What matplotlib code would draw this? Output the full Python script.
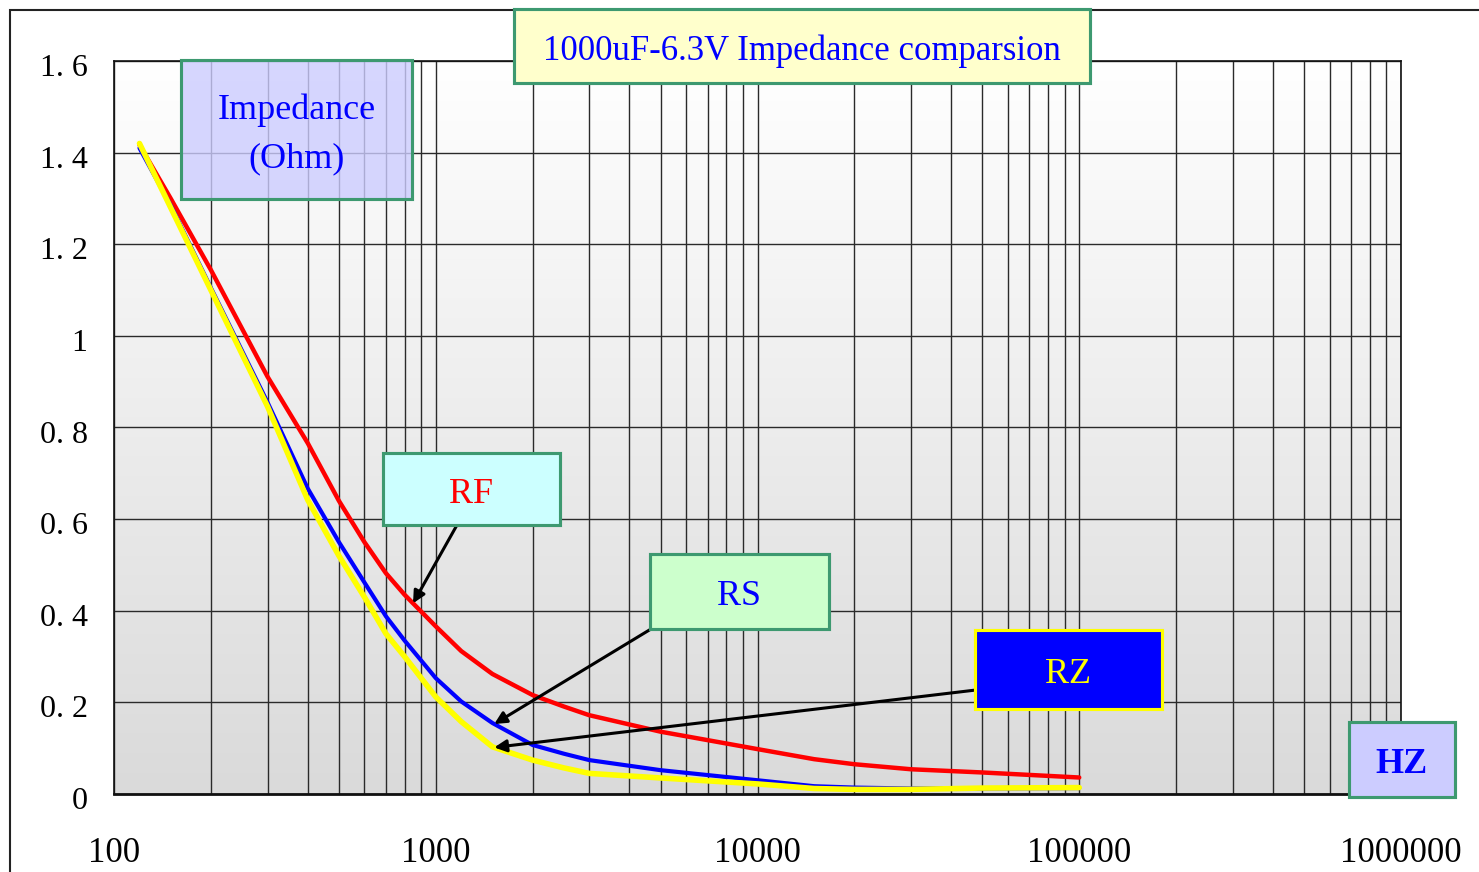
#!/usr/bin/env python3

import numpy as np
import matplotlib
matplotlib.use('Agg')
import matplotlib.pyplot as plt
from matplotlib.patches import Rectangle
from matplotlib.colors import LinearSegmentedColormap
from matplotlib.transforms import ScaledTranslation

# frequency points (Hz) and impedance (Ohm)
freq = [120, 150, 200, 300, 400, 500, 600, 700, 800, 1000, 1200, 1500, 2000,
        2500, 3000, 5000, 10000, 15000, 20000, 30000, 50000, 100000]
rf = [1.417, 1.300, 1.144, 0.911, 0.766, 0.640, 0.550, 0.482, 0.435, 0.366,
      0.312, 0.262, 0.216, 0.191, 0.172, 0.136, 0.098, 0.076, 0.065, 0.054,
      0.047, 0.036]
rs = [1.410, 1.285, 1.105, 0.855, 0.667, 0.550, 0.462, 0.388, 0.335, 0.253,
      0.202, 0.155, 0.107, 0.088, 0.074, 0.052, 0.030, 0.017, 0.014, 0.012,
      0.012, 0.013]
rz = [1.420, 1.280, 1.100, 0.846, 0.642, 0.520, 0.430, 0.350, 0.300, 0.212,
      0.158, 0.103, 0.074, 0.057, 0.045, 0.035, 0.022, 0.012, 0.010, 0.010,
      0.013, 0.014]

yticks = [0, 0.2, 0.4, 0.6, 0.8, 1.0, 1.2, 1.4, 1.6]
ytick_labels = ['0', '0. 2', '0. 4', '0. 6', '0. 8', '1', '1. 2', '1. 4', '1. 6']
xticks = [100, 1000, 10000, 100000, 1000000]
xtick_labels = ['100', '1000', '10000', '100000', '1000000']

title = '1000uF-6.3V Impedance comparsion'

W, H = 1479.0, 872.0
SERIF = 'Liberation Serif'
GREEN = '#3D9970'


def px(x, y):
    # pixel position (from top-left) -> figure fraction
    return (x / W, 1 - y / H)


def box(fig, x0, y0, x1, y1, face, edge, text, color, size=26,
        weight='normal', alpha=1.0):
    fx0, fy1 = px(x0, y0)
    fx1, fy0 = px(x1, y1)
    fig.patches.append(Rectangle((fx0, fy0), fx1 - fx0, fy1 - fy0,
                                 transform=fig.transFigure, facecolor=face,
                                 edgecolor=edge, lw=2.2, alpha=alpha,
                                 zorder=5))
    fig.patches.append(Rectangle((fx0, fy0), fx1 - fx0, fy1 - fy0,
                                 transform=fig.transFigure, facecolor='none',
                                 edgecolor=edge, lw=2.2, zorder=6))
    # text sits a few pixels below the box centre in the original
    fig.text((fx0 + fx1) / 2, (fy0 + fy1) / 2 - 5 / H, text, ha='center',
             va='center', color=color, fontsize=size, family=SERIF,
             weight=weight, linespacing=1.6, zorder=7)


def at(series, f):
    # value of a series at frequency f (log interpolation)
    return float(np.interp(np.log10(f), np.log10(freq), series))


fig = plt.figure(figsize=(W / 100, H / 100), dpi=100)
fig.patch.set_facecolor('white')

# outer chart frame
fig.patches.append(Rectangle(px(10, 880), 1.2, 1 - px(10, 880)[1] - 10 / H,
                             transform=fig.transFigure, facecolor='none',
                             edgecolor='#222222', lw=1.5))

l, t = px(114, 61)
r, b = px(1401, 794)
ax = fig.add_axes([l, b, r - l, t - b])

# white -> light grey background
cmap = LinearSegmentedColormap.from_list('bg', ['#DADADA', '#FFFFFF'])
grad = np.linspace(0, 1, 256).reshape(-1, 1)
ax.imshow(grad, cmap=cmap, extent=[0, 1, 0, 1], transform=ax.transAxes,
          aspect='auto', origin='lower', zorder=-2)

ax.set_xscale('log')
ax.plot(freq, rf, color='#FF0000', lw=3.2, zorder=3, solid_capstyle='round')
ax.plot(freq, rs, color='#0000FF', lw=3.0, zorder=3, solid_capstyle='round')
ax.plot(freq, rz, color='#FFFF00', lw=4.0, zorder=3, solid_capstyle='round')

ax.set_xlim(100, 1000000)
ax.set_ylim(0, 1.6)
ax.set_yticks(yticks)
ax.set_yticklabels(ytick_labels, family=SERIF, fontsize=23)
ax.set_xticks(xticks)
ax.set_xticklabels(xtick_labels, family=SERIF, fontsize=25)
ax.xaxis.set_minor_locator(matplotlib.ticker.LogLocator(base=10,
                           subs=np.arange(2, 10), numticks=20))
ax.xaxis.set_minor_formatter(matplotlib.ticker.NullFormatter())
ax.tick_params(axis='x', which='both', length=0, pad=31)
ax.tick_params(axis='y', length=0, pad=19)
# y labels sit slightly below their grid lines
shift = ScaledTranslation(0, -4 / 100, fig.dpi_scale_trans)
for lab in ax.get_yticklabels():
    lab.set_transform(lab.get_transform() + shift)

ax.set_axisbelow(True)
ax.grid(True, which='major', axis='both', color='#2A2A2A', lw=1.0)
ax.grid(True, which='minor', axis='x', color='#2A2A2A', lw=1.0)
for s in ax.spines.values():
    s.set_color('#111111')
    s.set_linewidth(1.2)
ax.spines['bottom'].set_linewidth(2.0)

# arrows from the labels to the curves
arrow = dict(arrowstyle='-|>', color='black', lw=2.2, mutation_scale=18,
             shrinkA=0, shrinkB=0)
ax.annotate('', xy=(850, at(rf, 850)), xytext=px(457, 525),
            textcoords='figure fraction', arrowprops=arrow, zorder=8)
ax.annotate('', xy=(1520, at(rs, 1520)), xytext=px(651, 629),
            textcoords='figure fraction', arrowprops=arrow, zorder=8)
ax.annotate('', xy=(1520, at(rz, 1520)), xytext=px(976, 690),
            textcoords='figure fraction', arrowprops=arrow, zorder=8)

# text boxes
box(fig, 514, 9, 1090, 83, '#FFFFCC', GREEN, title, '#0000FF', size=25)
box(fig, 181, 60, 412, 199, '#CCCCFF', GREEN, 'Impedance\n(Ohm)',
    '#0000FF', size=26, alpha=0.8)
box(fig, 383, 453, 560, 525, '#CCFFFF', GREEN, 'RF', '#FF0000')
box(fig, 650, 554, 829, 629, '#CCFFCC', GREEN, 'RS', '#0000FF')
box(fig, 975, 630, 1162, 709, '#0000FF', '#FFFF00', 'RZ', '#FFFF00')
box(fig, 1349, 722, 1455, 797, '#CCCCFF', GREEN, 'HZ', '#0000FF',
    weight='bold')

fig.savefig('out.png', dpi=100)
plt.close(fig)
